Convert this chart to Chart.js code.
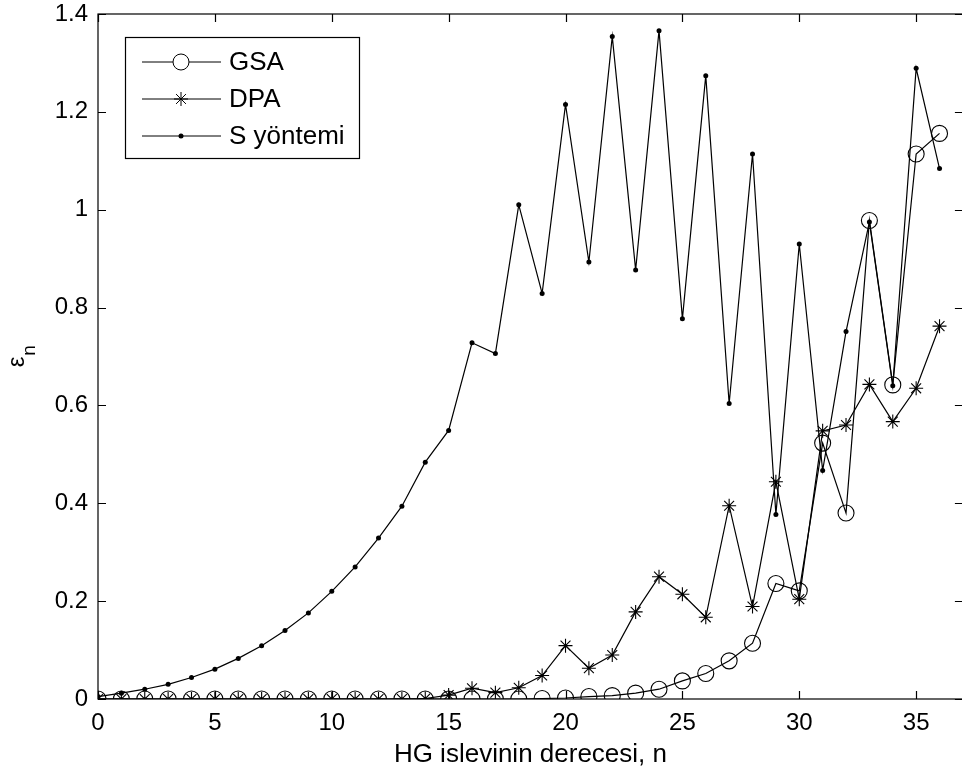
<!DOCTYPE html>
<html>
<head>
<meta charset="utf-8">
<script src="https://cdn.jsdelivr.net/npm/chart.js@4/dist/chart.umd.min.js"></script>
<style>
  html,body{margin:0;padding:0;background:#fff;overflow:hidden;}
  #wrap{position:absolute;left:0;top:0;}
</style>
</head>
<body>
<div id="wrap"><canvas id="epsChart" width="964" height="774"></canvas></div>
<script>
// degree n of the HG function
const degrees = [0,1,2,3,4,5,6,7,8,9,10,11,12,13,14,15,16,17,18,19,20,21,22,23,24,25,26,27,28,29,30,31,32,33,34,35,36];

const gsaValues = [0,0,0,0,0,0,0,0,0,0,0,0,0,0,0,0,0,0,0,0.001,0.002,0.005,0.007,0.012,0.02,0.037,0.052,0.078,0.114,0.236,0.221,0.523,0.38,0.978,0.642,1.114,1.156];
const dpaValues = [0,0,0,0,0,0,0,0,0,0,0,0,0,0,0.001,0.008,0.022,0.013,0.023,0.048,0.109,0.063,0.09,0.178,0.25,0.214,0.167,0.395,0.189,0.444,0.204,0.548,0.56,0.643,0.567,0.635,0.762];
const sValues = [0.005,0.012,0.02,0.03,0.044,0.061,0.083,0.109,0.14,0.176,0.22,0.27,0.329,0.394,0.484,0.549,0.728,0.706,1.01,0.829,1.215,0.893,1.354,0.877,1.366,0.777,1.274,0.604,1.114,0.377,0.93,0.467,0.751,0.975,0.64,1.289,1.084];

const seriesNames = ['GSA','DPA','S yöntemi'];
const xTicks = [0,5,10,15,20,25,30,35];
const yTicks = [0,0.2,0.4,0.6,0.8,1,1.2,1.4];

const FONT = 'Arial, "Liberation Sans", sans-serif';

function pts(vals){
  return vals.map((v,i)=>({x:degrees[i],y:v}));
}

const frameAndLegend = {
  id:'frameAndLegend',
  afterDraw(chart){
    const ctx = chart.ctx;
    const a = chart.chartArea;
    const xs = chart.scales.x, ys = chart.scales.y;
    ctx.save();
    ctx.strokeStyle = '#000';
    ctx.lineWidth = 1.2;
    ctx.strokeRect(a.left, a.top, a.right - a.left, a.bottom - a.top);
    // inward ticks on all four sides
    ctx.beginPath();
    xTicks.forEach(v=>{
      const px = Math.round(xs.getPixelForValue(v)) + 0.5;
      ctx.moveTo(px, a.bottom); ctx.lineTo(px, a.bottom - 8);
      ctx.moveTo(px, a.top); ctx.lineTo(px, a.top + 8);
    });
    yTicks.forEach(v=>{
      const py = Math.round(ys.getPixelForValue(v)) + 0.5;
      ctx.moveTo(a.left, py); ctx.lineTo(a.left + 8, py);
      ctx.moveTo(a.right, py); ctx.lineTo(a.right - 8, py);
    });
    ctx.stroke();

    // y axis title: epsilon with subscript n
    ctx.save();
    ctx.translate(24, 362);
    ctx.rotate(-Math.PI/2);
    ctx.fillStyle = '#000';
    ctx.textBaseline = 'alphabetic';
    ctx.font = '24px ' + FONT;
    const ew = ctx.measureText('ε').width;
    ctx.fillText('ε', -ew/2, 0);
    ctx.font = '19px ' + FONT;
    ctx.fillText('n', ew/2 + 1, 11);
    ctx.restore();

    // legend box
    const bx = 125, by = 37, bw = 234, bh = 121;
    ctx.fillStyle = '#fff';
    ctx.fillRect(bx, by, bw, bh);
    ctx.lineWidth = 1.2;
    ctx.strokeRect(bx + 0.5, by + 0.5, bw, bh);
    const rowY = [62, 99, 136];
    chart.data.datasets.forEach((ds,i)=>{
      const y = rowY[i];
      ctx.strokeStyle = '#000';
      ctx.lineWidth = 1;
      ctx.beginPath();
      ctx.moveTo(142, y); ctx.lineTo(221, y);
      ctx.stroke();
      const cx = 181;
      if (ds.pointStyle === 'circle' && ds.pointRadius > 4){
        ctx.fillStyle = '#fff';
        ctx.beginPath(); ctx.arc(cx, y, ds.pointRadius, 0, Math.PI*2);
        ctx.fill(); ctx.stroke();
      } else if (ds.pointStyle === 'star'){
        const r = ds.pointRadius;
        ctx.beginPath();
        for (let k=0;k<4;k++){
          const ang = k*Math.PI/4;
          ctx.moveTo(cx - Math.cos(ang)*r, y - Math.sin(ang)*r);
          ctx.lineTo(cx + Math.cos(ang)*r, y + Math.sin(ang)*r);
        }
        ctx.stroke();
      } else {
        ctx.fillStyle = '#000';
        ctx.beginPath(); ctx.arc(cx, y, ds.pointRadius, 0, Math.PI*2); ctx.fill();
      }
      ctx.fillStyle = '#000';
      ctx.font = '26px ' + FONT;
      ctx.textBaseline = 'middle';
      ctx.fillText(ds.label, 229, y + 1);
    });
    ctx.restore();
  }
};

const chart = new Chart(document.getElementById('epsChart'), {
  type:'line',
  data:{
    datasets:[{
      label:seriesNames[0],
      data:pts(gsaValues),
      borderColor:'#000',
      borderWidth:1.2,
      pointStyle:'circle',
      pointRadius:8,
      pointBorderWidth:1.1,
      pointBorderColor:'#000',
      pointBackgroundColor:'rgba(0,0,0,0)'
    },{
      label:seriesNames[1],
      data:pts(dpaValues),
      borderColor:'#000',
      borderWidth:1.2,
      pointStyle:'star',
      pointRadius:7,
      pointBorderWidth:1.1,
      pointBorderColor:'#000',
      pointBackgroundColor:'rgba(0,0,0,0)'
    },{
      label:seriesNames[2],
      data:pts(sValues),
      borderColor:'#000',
      borderWidth:1.2,
      pointStyle:'circle',
      pointRadius:2.5,
      pointBorderWidth:0,
      pointBackgroundColor:'#000'
    }]
  },
  options:{
    responsive:false,
    maintainAspectRatio:false,
    animation:false,
    events:[],
    layout:{padding:{top:14,right:1,left:0,bottom:0}},
    elements:{line:{tension:0}},
    plugins:{legend:{display:false},tooltip:{enabled:false}},
    scales:{
      x:{
        type:'linear',
        min:0,max:37,
        afterFit:s=>{s.height=75;s.paddingLeft=0;s.paddingRight=0;},
        afterBuildTicks:s=>{s.ticks=xTicks.map(v=>({value:v}));},
        grid:{display:false,drawTicks:false},
        border:{display:false},
        ticks:{color:'#000',font:{size:24,family:FONT},padding:10,maxRotation:0,autoSkip:false},
        title:{display:true,text:'HG islevinin derecesi, n',color:'#000',font:{size:26,family:FONT},padding:{top:0,bottom:4}}
      },
      y:{
        min:0,max:1.4,
        afterFit:s=>{s.width=98;s.paddingTop=0;s.paddingBottom=0;},
        afterBuildTicks:s=>{s.ticks=yTicks.map(v=>({value:v}));},
        grid:{display:false,drawTicks:false},
        border:{display:false},
        ticks:{color:'#000',font:{size:24,family:FONT},padding:10,autoSkip:false,callback:v=>String(v)}
      }
    }
  },
  plugins:[frameAndLegend]
});

// the original figure is cropped just past its right axis; widen the canvas
// until the plot's right edge sits at x = 963
for (let k=0;k<3;k++){
  const extra = Math.round(963 - chart.chartArea.right);
  if (extra === 0) break;
  chart.resize(chart.width + extra, 774);
}
</script>
</body>
</html>
